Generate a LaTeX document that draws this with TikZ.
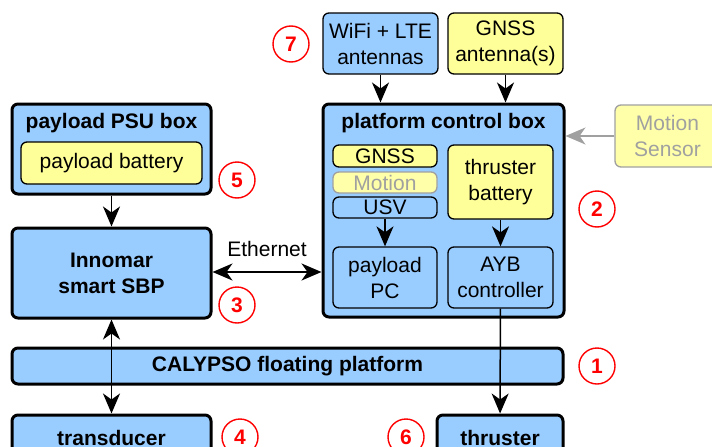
\documentclass[tikz,border=0pt]{standalone}
\usepackage{fontspec}
\setmainfont{Liberation Sans}
\usetikzlibrary{arrows.meta}
\definecolor{boxblue}{HTML}{99CCFF}
\definecolor{boxyellow}{HTML}{FFFF99}
\definecolor{paleyellow}{HTML}{FFFFAA}
\definecolor{fadegray}{HTML}{A0A0A0}
\definecolor{markred}{HTML}{FF0000}
\tikzset{
  txt/.style={font=\fontsize{21}{26}\selectfont, align=center, inner sep=0pt},
  bigbox/.style={txt, draw=black, line width=3pt, rounded corners=6pt},
  smallbox/.style={txt, draw=black, line width=1.3pt, rounded corners=6pt},
  bluebig/.style={bigbox, fill=boxblue},
  bluesmall/.style={smallbox, fill=boxblue},
  yellowsmall/.style={smallbox, fill=boxyellow},
  fadedbox/.style={smallbox, draw=fadegray, fill=paleyellow, text=fadegray},
  title/.style={txt, font=\fontsize{21}{26}\selectfont\bfseries},
  marker/.style={circle, draw=markred, line width=1.4pt, minimum size=36pt, inner sep=0pt,
    text=markred, font=\fontsize{21}{26}\selectfont\bfseries},
  tip/.style={},
  link/.style={line width=1.5pt, -{Stealth[length=20pt,width=17pt,inset=6pt]}},
  dlink/.style={line width=1.5pt, {Stealth[length=20pt,width=17pt,inset=6pt]}-{Stealth[length=20pt,width=17pt,inset=6pt]}},
}
\begin{document}
\begin{tikzpicture}[x=1pt,y=-1pt]
\useasboundingbox (0,0) rectangle (712,447);
\clip (0,0) rectangle (712,447);

% antennas on top
\node[bluesmall, minimum width=115pt, minimum height=61pt] (wifi) at (380.5,43.5) {WiFi + LTE\\antennas};
\node[yellowsmall, minimum width=115pt, minimum height=61pt] (gnssant) at (505.5,43.5) {GNSS\\antenna(s)};

% payload PSU box
\node[bluebig, minimum width=199pt, minimum height=90pt] (psu) at (111.5,149) {};
\node[title] (psutitle) at (111.5,123) {payload PSU box};
\node[yellowsmall, minimum width=181pt, minimum height=42pt] (pbat) at (111.5,163) {payload battery};

% platform control box
\node[bluebig, minimum width=241pt, minimum height=213pt] (pcb) at (443.5,210.5) {};
\node[title] (pcbtitle) at (443.5,123) {platform control box};
\node[yellowsmall, minimum width=104pt, minimum height=22pt] (gnssin) at (385,156) {GNSS};
\node[fadedbox, minimum width=104pt, minimum height=21pt] (motionin) at (385,182.5) {Motion};
\node[bluesmall, minimum width=104pt, minimum height=21pt] (usv) at (385,207.5) {USV};
\node[bluesmall, minimum width=104pt, minimum height=61pt] (ppc) at (385,277.5) {payload\\PC};
\node[yellowsmall, minimum width=105pt, minimum height=74pt] (tbat) at (500.5,182) {thruster\\battery};
\node[bluesmall, minimum width=105pt, minimum height=61pt] (ayb) at (500.5,277.5) {AYB\\controller};

% external motion sensor
\node[fadedbox, minimum width=105pt, minimum height=62pt] (msensor) at (667.5,136) {Motion\\Sensor};

% sub-bottom profiler and platform
\node[bluebig, minimum width=199pt, minimum height=90pt, font=\fontsize{21}{26}\selectfont\bfseries] (sbp) at (111.5,273) {Innomar\\smart SBP};
\node[bluebig, minimum width=551pt, minimum height=36pt, font=\fontsize{21}{26}\selectfont\bfseries] (calypso) at (287.5,366) {CALYPSO floating platform};

% underwater parts
\node[bluebig, minimum width=199pt, minimum height=45pt, font=\fontsize{21}{26}\selectfont\bfseries] (transducer) at (111.5,437.5) {transducer};
\node[bluebig, minimum width=126pt, minimum height=45pt, font=\fontsize{21}{26}\selectfont\bfseries] (thruster) at (500,437.5) {thruster};

% numbered markers
\node[marker] (m7) at (291,44) {7};
\node[marker] (m5) at (237,180) {5};
\node[marker] (m2) at (597,209) {2};
\node[marker] (m3) at (237,305) {3};
\node[marker] (m1) at (597,366) {1};
\node[marker] (m4) at (240,437) {4};
\node[marker] (m6) at (406,437) {6};

% connectors
\draw[link] (wifi) -- (wifi |- pcb.north);
\draw[link] (gnssant) -- (gnssant |- pcb.north);
\draw[link, draw=fadegray, fill=fadegray] (msensor.west) -- (msensor.west -| pcb.east);
\draw[link] (usv) -- (ppc);
\draw[link] (tbat) -- (ayb);
\draw[link] (psu) -- (sbp);
\coordinate (ethy) at (0,272);
\draw[dlink] (sbp.east |- ethy) -- node[txt, above=15pt] (ethlabel) {Ethernet} (pcb.west |- ethy);
\draw[dlink] (sbp) -- (transducer);
\draw[link] (ayb) -- (thruster);
\end{tikzpicture}
\end{document}
